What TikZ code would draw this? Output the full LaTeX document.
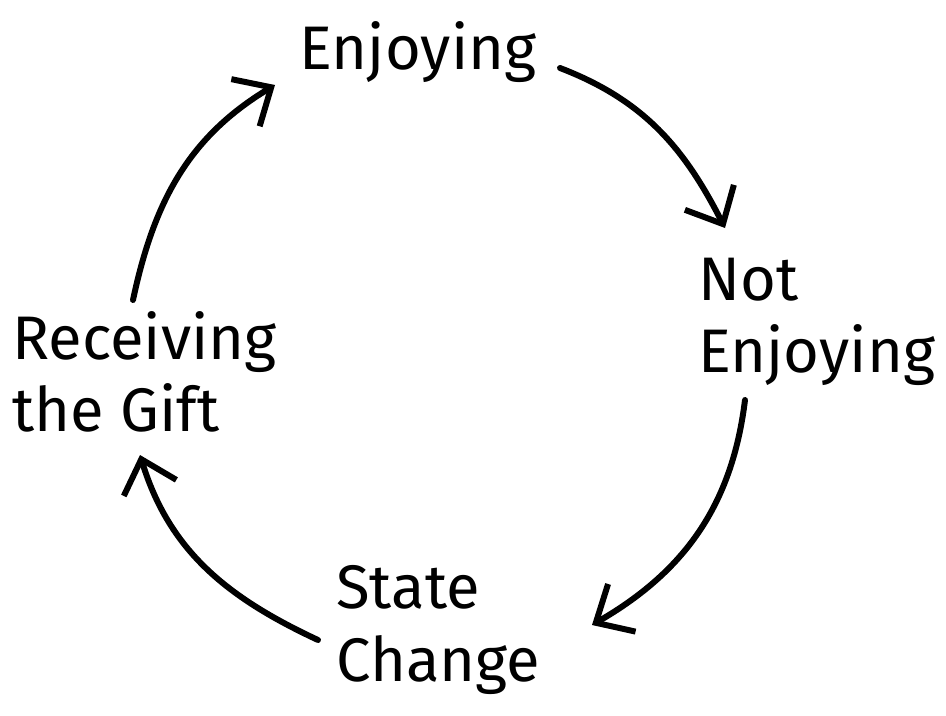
\documentclass[tikz,border=0pt]{standalone}
\usepackage{fontspec}
\setmainfont{Fira Sans}
\usetikzlibrary{arrows.meta}
\tikzset{
  lbl/.style={inner sep=0pt, align=left, font=\fontsize{35}{41}\selectfont},
  cyc/.style={line width=3.4pt, line cap=round, -{Straight Barb[length=6mm,width=11mm,line width=3.4pt]}},
}
\begin{document}
\begin{tikzpicture}[x=0.02cm,y=0.02cm]
\useasboundingbox (0,0) rectangle (946,-716);
\node[lbl] (enj) at (418,-52) {Enjoying};
\node[lbl, anchor=west] (notenj) at (698,-322) {Not\\Enjoying};
\node[lbl, anchor=west] (state) at (336,-630) {State\\Change};
\node[lbl, anchor=west] (recv) at (12,-372) {Receiving\\the Gift};
\coordinate (a1s) at (560,-68);
\coordinate (a1e) at (725,-228);
\coordinate (a2s) at (745,-400);
\coordinate (a2e) at (592,-625);
\coordinate (a3s) at (318,-640);
\coordinate (a3e) at (140,-455);
\coordinate (a4s) at (133,-300);
\coordinate (a4e) at (275,-85);
\draw[cyc] (a1s) to[out=-21,in=117] (a1e);
\draw[cyc] (a2s) to[out=-97,in=30] (a2e);
\draw[cyc] (a3s) to[out=155,in=-73] (a3e);
\draw[cyc] (a4s) to[out=78,in=211] (a4e);
\end{tikzpicture}
\end{document}
